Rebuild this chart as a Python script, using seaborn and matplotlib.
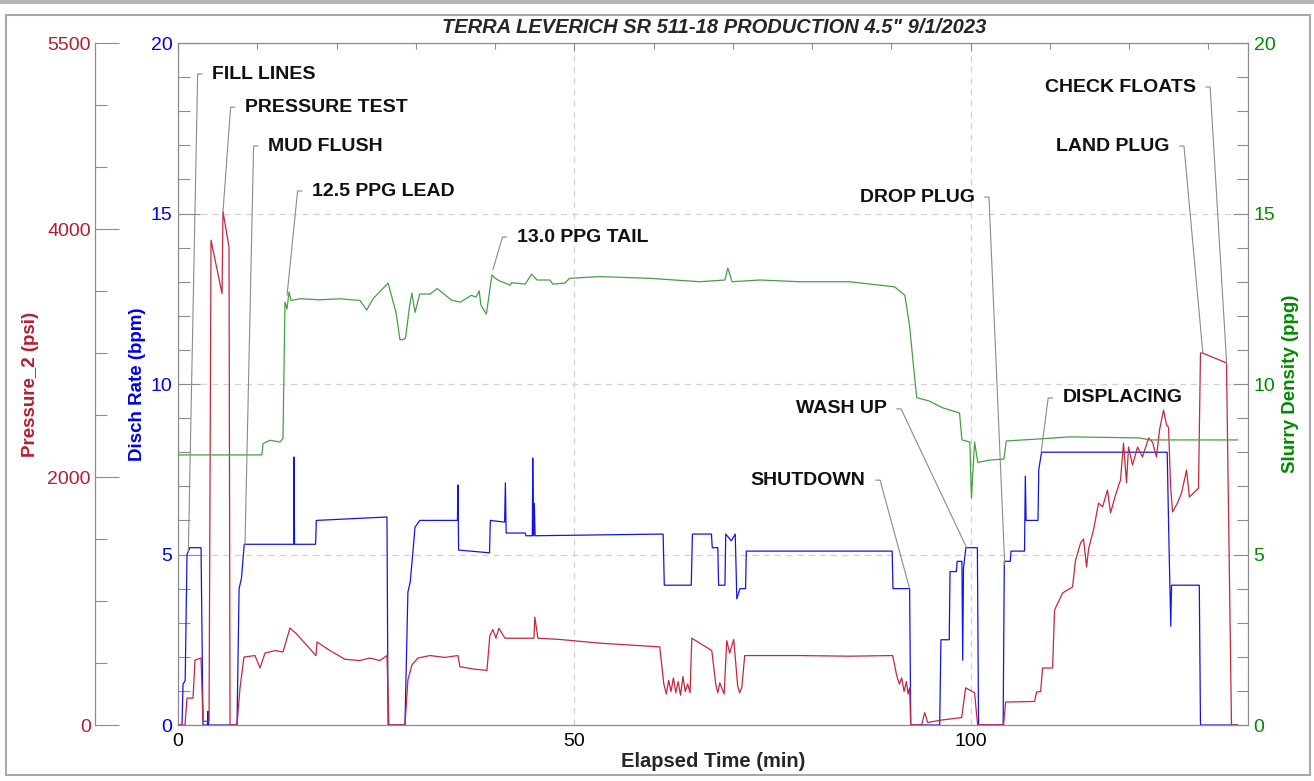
import matplotlib
matplotlib.use("Agg")
import matplotlib.pyplot as plt
from matplotlib.ticker import FixedLocator, MultipleLocator
from matplotlib.patches import Rectangle
from matplotlib.lines import Line2D
import seaborn as sns

# ---- data (time in minutes) ----
rate_t = [0, 0.5, 0.63, 0.9, 1.13, 1.5, 2.9, 3.15, 3.7, 3.78, 3.85, 7.44, 7.7, 8.0, 8.35,
          14.6, 14.63, 14.7, 17.35, 17.45, 26.36, 26.5, 28.63, 29.0, 29.3, 29.9, 30.5,
          35.25, 35.31, 35.4, 39.3, 39.4, 41.2, 41.3, 41.4, 43.8, 43.9, 44.7, 44.75, 44.85,
          44.95, 45.05, 61.2, 61.35, 64.75, 64.9, 67.3, 67.4, 68.1, 68.2, 69.0, 69.1, 69.8,
          70.3, 70.5, 70.9, 71.6, 71.7, 90.1, 90.2, 92.3, 92.45, 96.1, 96.25, 97.3, 97.4,
          98.2, 98.3, 98.9, 99.0, 99.1, 99.4, 100.85, 101.0, 104.1, 104.25, 105.0, 105.1,
          106.8, 106.9, 107.0, 108.5, 108.6, 108.95, 124.8, 125.0, 125.25, 125.35, 128.85,
          129.0, 133.7]
rate_v = [0, 0, 1.2, 1.3, 5.0, 5.2, 5.2, 0, 0, 0.4, 0, 0, 4.0, 4.3, 5.3,
          5.3, 7.86, 5.3, 5.3, 6.0, 6.1, 0, 0, 3.9, 4.2, 5.8, 6.0,
          6.0, 7.04, 5.13, 5.05, 6.0, 5.95, 7.1, 5.63, 5.63, 5.55, 5.55, 7.83, 5.55,
          6.5, 5.55, 5.6, 4.1, 4.1, 5.6, 5.6, 5.2, 5.2, 4.1, 4.1, 5.6, 5.4,
          5.6, 3.7, 4.0, 4.0, 5.1, 5.1, 4.0, 4.0, 0, 0, 2.5, 2.5, 4.5,
          4.5, 4.8, 4.8, 1.9, 4.6, 5.2, 5.2, 0, 0, 4.8, 4.8, 5.1,
          5.1, 7.3, 6.0, 6.0, 7.5, 8.0, 8.0, 5.6, 2.9, 4.1, 4.1,
          0, 0]

pres_t = [0, 0.88, 1.13, 1.89, 2.14, 2.9, 3.15, 3.91, 4.16, 5.55, 5.67, 6.43, 6.56, 7.44,
          7.82, 8.32, 9.71, 10.34, 10.97, 12.23, 13.24, 14.12, 14.5, 14.88, 17.4, 17.53,
          19.17, 21.06, 22.95, 24.21, 25.47, 26.1, 26.36, 26.6, 28.63, 29.0, 29.5, 30.27,
          31.78, 33.67, 35.31, 35.56, 37.45, 38.97, 39.34, 39.72, 40.1, 40.48, 41.24, 43.13,
          44.9, 45.02, 45.4, 48.17, 53.22, 58.26, 60.78, 61.29, 61.6, 61.9, 62.2, 62.5, 62.8,
          63.1, 63.4, 63.7, 64.0, 64.3, 64.6, 64.82, 65.83,
          67.34, 67.84, 68.1, 68.35, 68.6, 68.9, 69.23, 69.6, 70.11, 70.6, 70.85, 71.12, 71.5,
          78.44, 84.74, 90.16, 90.67, 91.0, 91.3, 91.6, 91.9, 92.1, 92.31, 92.43, 93.82, 94.2,
          94.58, 96.34, 98.87, 99.37, 100.5, 100.88,
          104.16, 104.41, 108.07, 108.32, 108.83, 109.08, 110.34, 110.59, 111.6, 112.23,
          112.86, 113.24, 113.87, 114.25, 114.63, 114.88, 115.5, 116.14, 116.65, 117.27,
          117.65, 118.28, 118.91, 119.29, 119.67, 119.92, 120.43, 121.06, 121.69, 122.45,
          122.95, 123.45, 123.83, 124.34, 124.72, 124.97, 125.23, 125.48, 126.1, 126.61,
          127.24, 127.61, 128.5, 128.75, 129.0, 129.26, 132.28, 132.91, 133.67]
pres_v = [0, 0, 217, 217, 524, 540, 30, 30, 3910, 3480, 4140, 3855, 0, 0,
          300, 548, 560, 460, 580, 600, 589, 782, 760, 740, 560, 670,
          600, 530, 520, 540, 520, 548, 560, 0, 0, 363, 484, 540,
          560, 545, 560, 470, 450, 440, 720, 770, 700, 780, 700, 700,
          700, 870, 700, 690, 660, 640, 630, 330, 250, 360, 270, 380, 260,
          350, 240, 390, 270, 330, 260, 700, 660,
          600, 330, 260, 340, 300, 250, 680, 580, 690, 320, 260, 300, 560,
          560, 555, 560, 400, 330, 380, 270, 350, 250, 300, 0, 0, 100,
          20, 40, 60, 300, 260, 0,
          0, 185, 190, 266, 270, 460, 460, 927, 1065, 1089,
          1113, 1330, 1468, 1500, 1274, 1420, 1573, 1790, 1760, 1895,
          1710, 1855, 1976, 2274, 1952, 2242, 2097, 2242, 2161, 2315,
          2280, 2161, 2379, 2540, 2420, 2400, 1920, 1718, 1790, 1871,
          2056, 1839, 1895, 1911, 3000, 3000, 2920, 0, 0]

dens_t = [0, 10.59, 10.72, 11.6, 12.86, 13.24, 13.49, 13.75, 14.0, 14.25, 15.38, 17.9,
          20.43, 22.95, 23.8, 24.6, 26.5, 27.5, 28.0, 28.4, 28.7, 29.2, 29.5, 29.9, 30.5,
          31.8, 32.7, 34.5, 35.6, 37.0, 37.6, 38.0, 38.2, 38.9, 39.6, 40.0, 40.6, 41.9, 42.1,
          43.8, 44.6, 45.3, 46.9, 47.3, 48.8, 49.4, 53.2, 59.5, 65.8, 69.0, 69.36, 69.9, 73.4,
          78.4, 84.7, 90.4, 91.7, 92.3, 92.8, 93.2, 94.8, 96.5, 98.6, 98.9, 99.9, 100.1,
          100.5, 100.9, 102.4, 104.2, 104.5, 108.7, 112.5, 121.3, 122.6, 133.7]
dens_v = [7.92, 7.92, 8.25, 8.35, 8.3, 8.4, 12.4, 12.2, 12.7, 12.45, 12.5, 12.47,
          12.5, 12.45, 12.17, 12.5, 12.96, 12.1, 11.3, 11.3, 11.35, 12.26, 12.67, 12.1, 12.64,
          12.64, 12.8, 12.46, 12.4, 12.6, 12.55, 12.73, 12.32, 12.05, 13.2, 13.1, 13.02, 12.9, 12.97,
          12.93, 13.22, 13.05, 13.05, 12.93, 12.96, 13.1, 13.15, 13.1, 13.0, 13.05, 13.4, 13.0, 13.05,
          13.0, 13.0, 12.85, 12.6, 11.7, 10.5, 9.6, 9.5, 9.3, 9.15, 8.36, 8.3, 6.66,
          8.3, 7.7, 7.77, 7.8, 8.33, 8.39, 8.45, 8.42, 8.36, 8.36]

pres_ticks = [0, 2000, 4000, 5500]

event_labels = ["FILL LINES", "PRESSURE TEST", "MUD FLUSH", "12.5 PPG LEAD", "13.0 PPG TAIL",
                "SHUTDOWN", "WASH UP", "DROP PLUG", "DISPLACING", "CHECK FLOATS", "LAND PLUG"]
event_time = [1.3, 5.67, 8.45, 13.75, 39.72, 92.3, 99.5, 104.3, 108.9, 132.3, 129.3]
event_value = [5.1, 4140, 5.3, 12.6, 13.35, 4.0, 5.2, 4.7, 8.0, 2920, 3000]
event_series = ["rate", "pressure", "rate", "density", "density", "rate", "rate", "rate",
                "rate", "pressure", "pressure"]
# where each label sits (time, rate units) and on which side of its stub
label_x = [4.29, 8.45, 11.35, 16.9, 42.75, 86.76, 89.4, 100.5, 111.6, 128.4, 125.1]
label_y = [19.09, 18.12, 16.98, 15.66, 14.31, 7.18, 9.27, 15.48, 9.59, 18.71, 16.98]
label_side = ["r", "r", "r", "r", "r", "l", "l", "l", "r", "l", "l"]

RED, RED_TXT = "#C4283C", "#B41E30"
BLUE, BLUE_TXT = "#1414E6", "#0000F0"
GREEN, GREEN_TXT = "#45A045", "#008A00"
SPINE = "#8C8C8C"

sns.set_style("white")
plt.rcParams["font.family"] = ["Liberation Sans", "DejaVu Sans"]

fig = plt.figure(figsize=(13.14, 7.81), dpi=100)
ax = fig.add_axes([0.1355, 0.0717, 0.8143, 0.8732])
ax_p = ax.twinx()
ax_d = ax.twinx()

sns.lineplot(x=pres_t, y=pres_v, ax=ax_p, color=RED, lw=0.9, sort=False, estimator=None)
sns.lineplot(x=rate_t, y=rate_v, ax=ax, color=BLUE, lw=0.9, sort=False, estimator=None)
sns.lineplot(x=dens_t, y=dens_v, ax=ax_d, color=GREEN, lw=0.9, sort=False, estimator=None)

# main (rate) axis
ax.set_xlim(0, 135)
ax.set_ylim(0, 20)
ax.xaxis.set_major_locator(FixedLocator([0, 50, 100]))
ax.xaxis.set_minor_locator(MultipleLocator(10))
ax.yaxis.set_major_locator(MultipleLocator(5))
ax.yaxis.set_minor_locator(MultipleLocator(1))
ax.tick_params(axis="y", which="both", direction="in", color=SPINE, labelcolor=BLUE_TXT,
               labelsize=14, pad=4)
ax.tick_params(axis="y", which="major", length=16, width=0.8)
ax.tick_params(axis="y", which="minor", length=8.6, width=0.8)
ax.tick_params(axis="x", which="both", direction="in", top=True, color=SPINE,
               labelsize=14, pad=6, labelcolor="black")
ax.tick_params(axis="x", which="major", length=6, width=0.8)
ax.tick_params(axis="x", which="minor", length=4.5, width=0.8)
ax.grid(True, which="major", ls=(0, (5, 4)), color="#D2D2D2", lw=0.9)
for s in ax.spines.values():
    s.set_color(SPINE)
    s.set_linewidth(0.9)
ax.spines["right"].set_visible(False)
ax.set_xlabel("Elapsed Time (min)", fontsize=14.5, fontweight="bold")
ax.xaxis.set_label_coords(0.5, -0.053)
ax.xaxis.label.set_va("center")
ax.set_ylabel("Disch Rate (bpm)", fontsize=13.5, fontweight="bold", color=BLUE_TXT)
ax.yaxis.set_label_coords(-0.038, 0.5)
ax.yaxis.label.set_va("center")

# pressure axis, offset to the far left
ax_p.set_ylim(0, 5500)
ax_p.yaxis.tick_left()
ax_p.yaxis.set_label_position("left")
ax_p.spines["left"].set_position(("axes", -0.0776))
for k in ["right", "top", "bottom"]:
    ax_p.spines[k].set_visible(False)
ax_p.spines["left"].set_color(SPINE)
ax_p.spines["left"].set_linewidth(0.9)
ax_p.yaxis.set_major_locator(FixedLocator(pres_ticks))
ax_p.yaxis.set_minor_locator(MultipleLocator(500))
ax_p.tick_params(axis="y", which="both", direction="in", color=SPINE, labelcolor=RED_TXT,
                 labelsize=14, pad=3)
ax_p.tick_params(axis="y", which="major", length=17, width=0.8)
ax_p.tick_params(axis="y", which="minor", length=8.6, width=0.8)
ax_p.set_ylabel("Pressure_2 (psi)", fontsize=13.5, fontweight="bold", color=RED_TXT)
ax_p.yaxis.set_label_coords(-0.1375, 0.5)
ax_p.yaxis.label.set_va("center")

# density axis on the right
ax_d.set_ylim(0, 20)
for k in ["left", "top", "bottom"]:
    ax_d.spines[k].set_visible(False)
ax_d.spines["right"].set_color(SPINE)
ax_d.spines["right"].set_linewidth(0.9)
ax_d.yaxis.set_major_locator(MultipleLocator(5))
ax_d.yaxis.set_minor_locator(MultipleLocator(1))
ax_d.tick_params(axis="y", which="both", direction="in", color=SPINE, labelcolor=GREEN_TXT,
                 labelsize=14, pad=4)
ax_d.tick_params(axis="y", which="major", length=11, width=0.8)
ax_d.tick_params(axis="y", which="minor", length=8, width=0.8)
ax_d.set_ylabel("Slurry Density (ppg)", fontsize=13.5, fontweight="bold", color=GREEN_TXT)
ax_d.yaxis.set_label_coords(1.04, 0.5)
ax_d.yaxis.label.set_va("center")

for a in (ax_p, ax_d):
    a.set_xlim(0, 135)
    a.set_xlabel("")

# event labels with leader lines
tf = {"rate": ax.transData, "pressure": ax_p.transData, "density": ax_d.transData}
for lab, t, v, s, lx, ly, side in zip(event_labels, event_time, event_value, event_series,
                                       label_x, label_y, label_side):
    if side == "r":
        ha, rel, ang = "left", (0, 0.5), 180
    else:
        ha, rel, ang = "right", (1, 0.5), 0
    ax_d.annotate(lab, xy=(t, v), xycoords=tf[s], xytext=(lx, ly), textcoords=ax.transData,
                  ha=ha, va="center", fontsize=14, fontweight="bold", color="#111111",
                  arrowprops=dict(arrowstyle="-", color="#8A8A8A", lw=0.8, relpos=rel,
                                  patchA=None, shrinkA=7.2, shrinkB=0,
                                  connectionstyle=f"arc,angleA={ang},armA=14.4,angleB=0,armB=0,rad=0"))

fig.text(0.5434, 0.965, 'TERRA LEVERICH SR 511-18 PRODUCTION 4.5" 9/1/2023', ha="center",
         va="center", fontsize=14.5, fontweight="bold", fontstyle="italic")

# outer frame like the export
fig.patches.append(Rectangle((6 / 1314, 0.0077), 1304 / 1314, 0.9731, transform=fig.transFigure,
                             fill=False, ec="#A8A8A8", lw=1.5))
fig.lines.append(Line2D([0, 1], [0.9975, 0.9975], transform=fig.transFigure, color="#B4B4B4", lw=3))

fig.savefig("out.png", dpi=100)
